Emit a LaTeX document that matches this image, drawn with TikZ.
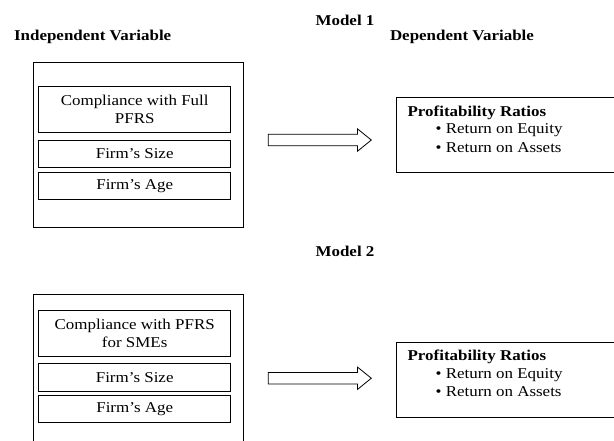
\documentclass[tikz,border=0pt]{standalone}
\usepackage{fontspec}
\setmainfont{Liberation Serif}[FakeStretch=1.13]
\usetikzlibrary{shapes.arrows,calc}

\begin{document}
\begin{tikzpicture}[x=1pt, y=-1pt, line width=0.8pt,
    font=\fontsize{15}{17.4}\selectfont,
    caja/.style={draw, inner sep=0pt, anchor=north west, align=center},
    titulo/.style={font=\fontsize{15}{17.4}\selectfont\bfseries, inner sep=0pt},
    flecha/.style={draw, single arrow, anchor=tail, inner sep=0pt, text height=10.7pt, text depth=0pt,
      minimum height=103pt, single arrow head extend=5.35pt, single arrow tip angle=78}]
  \useasboundingbox (0,0) rectangle (614,441);
  \clip (0,0) rectangle (614,441);
  % cabeceras
  \node[titulo] (modeloA) at (345,20.7) {Model 1};
  \node[titulo, anchor=west] (indep) at (13.7,37) {Independent Variable};
  \node[titulo, anchor=west] (dep) at (389.6,37) {Dependent Variable};
  % modelo 1, variables independientes
  \node[caja, minimum width=209.5pt, minimum height=164.4pt] (exteriorA) at (33.3,62.3) {};
  \node[caja, minimum width=191.8pt, minimum height=46.3pt] (normaA) at (38.4,86) {Compliance with Full\\PFRS};
  \node[caja, minimum width=191.8pt, minimum height=27.3pt] (tamanoA) at (38.4,140) {Firm's Size};
  \node[caja, minimum width=191.8pt, minimum height=27pt] (edadA) at (38.4,172) {Firm's Age};
  % modelo 1, variable dependiente
  \node[caja, minimum width=230pt, minimum height=75pt] (rentaA) at (396.2,97.3) {};
  \node[anchor=north west, align=left, inner sep=0pt] (ratiosA) at ([shift={(11,8)}]rentaA.north west)
    {\textbf{Profitability Ratios}\\ \hspace*{28pt}\textbullet\ Return on Equity\\[1pt] \hspace*{28pt}\textbullet\ Return on Assets};
  \node[flecha] (flechaA) at ($(exteriorA.east)!0.5!(rentaA.west)+(-52,0)$) {};
  % modelo 2
  \node[titulo] (modeloB) at (345,251.7) {Model 2};
  \node[caja, minimum width=209.5pt, minimum height=164.4pt] (exteriorB) at (33.3,294) {};
  \node[caja, minimum width=191.8pt, minimum height=45.7pt] (normaB) at (38.4,310) {Compliance with PFRS\\for SMEs};
  \node[caja, minimum width=191.8pt, minimum height=27.7pt] (tamanoB) at (38.4,363.3) {Firm's Size};
  \node[caja, minimum width=191.8pt, minimum height=27pt] (edadB) at (38.4,395.3) {Firm's Age};
  \node[caja, minimum width=230pt, minimum height=75pt] (rentaB) at (396.2,342) {};
  \node[anchor=north west, align=left, inner sep=0pt] (ratiosB) at ([shift={(11,8)}]rentaB.north west)
    {\textbf{Profitability Ratios}\\ \hspace*{28pt}\textbullet\ Return on Equity\\[1pt] \hspace*{28pt}\textbullet\ Return on Assets};
  \node[flecha] (flechaB) at ($(exteriorB.east)!0.5!(rentaB.west)+(-52,0)$) {};
\end{tikzpicture}
\end{document}
